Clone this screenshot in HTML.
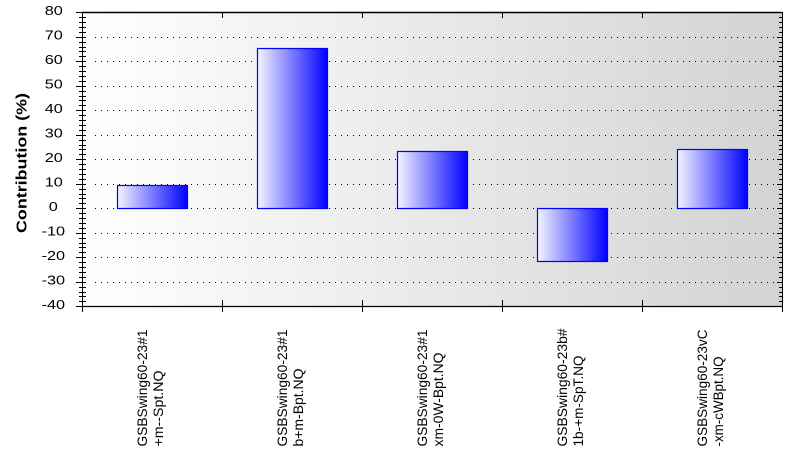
<!DOCTYPE html>
<html>
<head>
<meta charset="utf-8">
<style>
  html, body { margin: 0; padding: 0; background: #ffffff; }
  svg { display: block; }
  text { font-family: "Liberation Sans", Arial, sans-serif; fill: #000; }
</style>
</head>
<body>
<svg width="812" height="462" viewBox="0 0 812 462" xmlns="http://www.w3.org/2000/svg">
  <defs>
    <linearGradient id="bg" x1="0" y1="0" x2="1" y2="0">
      <stop offset="0" stop-color="#ffffff"/>
      <stop offset="1" stop-color="#d3d3d3"/>
    </linearGradient>
    <linearGradient id="bar" x1="0" y1="0" x2="1" y2="0">
      <stop offset="0" stop-color="#f4f4ff"/>
      <stop offset="1" stop-color="#0000ff"/>
    </linearGradient>
  </defs>

  <!-- plot background -->
  <rect x="82" y="12" width="700" height="294" fill="url(#bg)"/>

  <!-- dotted gridlines -->
  <g stroke="#000" stroke-width="1" stroke-dasharray="1 5" shape-rendering="crispEdges">
    <line x1="95" y1="37.5" x2="782" y2="37.5"/>
    <line x1="95" y1="61.5" x2="782" y2="61.5"/>
    <line x1="95" y1="86.5" x2="782" y2="86.5"/>
    <line x1="95" y1="110.5" x2="782" y2="110.5"/>
    <line x1="95" y1="135.5" x2="782" y2="135.5"/>
    <line x1="95" y1="159.5" x2="782" y2="159.5"/>
    <line x1="95" y1="184.5" x2="782" y2="184.5"/>
    <line x1="95" y1="208.5" x2="782" y2="208.5"/>
    <line x1="95" y1="233.5" x2="782" y2="233.5"/>
    <line x1="95" y1="257.5" x2="782" y2="257.5"/>
    <line x1="95" y1="282.5" x2="782" y2="282.5"/>
  </g>

  <!-- bars -->
  <g stroke="#0000ff" stroke-width="1.2" fill="url(#bar)">
    <rect x="117.5" y="185.5" width="70" height="23"/>
    <rect x="257.5" y="48.5" width="70" height="160"/>
    <rect x="397.5" y="151.5" width="70" height="57"/>
    <rect x="537.5" y="208.5" width="70" height="53"/>
    <rect x="677.5" y="149.5" width="70" height="59"/>
  </g>

  <!-- frame -->
  <g stroke="#000" stroke-width="1" fill="none">
    <line x1="82" y1="12.5" x2="782" y2="12.5" stroke-width="1.5"/>
    <line x1="82" y1="306.5" x2="782" y2="306.5" stroke-width="1.3"/>
    <line x1="82.5" y1="12" x2="82.5" y2="312"/>
    <line x1="782.5" y1="12" x2="782.5" y2="312"/>
  </g>

  <!-- minor ticks (left: 79-86, right: 779-782) -->
  <path stroke="#000" stroke-width="1" fill="none" shape-rendering="crispEdges" d="
    M79 12.5h7 M79 17.5h7 M79 22.5h7 M79 27.5h7 M79 32.5h7 M79 37.5h7 M79 42.5h7 M79 47.5h7 M79 51.5h7 M79 56.5h7
    M79 61.5h7 M79 66.5h7 M79 71.5h7 M79 76.5h7 M79 81.5h7 M79 86.5h7 M79 91.5h7 M79 96.5h7 M79 100.5h7 M79 105.5h7
    M79 110.5h7 M79 115.5h7 M79 120.5h7 M79 125.5h7 M79 130.5h7 M79 135.5h7 M79 140.5h7 M79 145.5h7 M79 149.5h7 M79 154.5h7
    M79 159.5h7 M79 164.5h7 M79 169.5h7 M79 174.5h7 M79 179.5h7 M79 184.5h7 M79 189.5h7 M79 194.5h7 M79 198.5h7 M79 203.5h7
    M79 208.5h7 M79 213.5h7 M79 218.5h7 M79 223.5h7 M79 228.5h7 M79 233.5h7 M79 238.5h7 M79 243.5h7 M79 247.5h7 M79 252.5h7
    M79 257.5h7 M79 262.5h7 M79 267.5h7 M79 272.5h7 M79 277.5h7 M79 282.5h7 M79 287.5h7 M79 292.5h7 M79 296.5h7 M79 301.5h7
    M779 17.5h3 M779 22.5h3 M779 27.5h3 M779 32.5h3 M779 42.5h3 M779 47.5h3 M779 51.5h3 M779 56.5h3
    M779 66.5h3 M779 71.5h3 M779 76.5h3 M779 81.5h3 M779 91.5h3 M779 96.5h3 M779 100.5h3 M779 105.5h3
    M779 115.5h3 M779 120.5h3 M779 125.5h3 M779 130.5h3 M779 140.5h3 M779 145.5h3 M779 149.5h3 M779 154.5h3
    M779 164.5h3 M779 169.5h3 M779 174.5h3 M779 179.5h3 M779 189.5h3 M779 194.5h3 M779 198.5h3 M779 203.5h3
    M779 213.5h3 M779 218.5h3 M779 223.5h3 M779 228.5h3 M779 238.5h3 M779 243.5h3 M779 247.5h3 M779 252.5h3
    M779 262.5h3 M779 267.5h3 M779 272.5h3 M779 277.5h3 M779 287.5h3 M779 292.5h3 M779 296.5h3 M779 301.5h3"/>

  <!-- major ticks left / right, category ticks -->
  <g stroke="#000" stroke-width="1" shape-rendering="crispEdges">
    <line x1="76" y1="12.5" x2="86" y2="12.5"/>
    <line x1="76" y1="37.5" x2="86" y2="37.5"/>
    <line x1="76" y1="61.5" x2="86" y2="61.5"/>
    <line x1="76" y1="86.5" x2="86" y2="86.5"/>
    <line x1="76" y1="110.5" x2="86" y2="110.5"/>
    <line x1="76" y1="135.5" x2="86" y2="135.5"/>
    <line x1="76" y1="159.5" x2="86" y2="159.5"/>
    <line x1="76" y1="184.5" x2="86" y2="184.5"/>
    <line x1="76" y1="208.5" x2="86" y2="208.5"/>
    <line x1="76" y1="233.5" x2="86" y2="233.5"/>
    <line x1="76" y1="257.5" x2="86" y2="257.5"/>
    <line x1="76" y1="282.5" x2="86" y2="282.5"/>
    <line x1="76" y1="306.5" x2="86" y2="306.5"/>

    <line x1="777" y1="37.5" x2="782" y2="37.5"/>
    <line x1="777" y1="61.5" x2="782" y2="61.5"/>
    <line x1="777" y1="86.5" x2="782" y2="86.5"/>
    <line x1="777" y1="110.5" x2="782" y2="110.5"/>
    <line x1="777" y1="135.5" x2="782" y2="135.5"/>
    <line x1="777" y1="159.5" x2="782" y2="159.5"/>
    <line x1="777" y1="184.5" x2="782" y2="184.5"/>
    <line x1="777" y1="208.5" x2="782" y2="208.5"/>
    <line x1="777" y1="233.5" x2="782" y2="233.5"/>
    <line x1="777" y1="257.5" x2="782" y2="257.5"/>
    <line x1="777" y1="282.5" x2="782" y2="282.5"/>

    <line x1="222.5" y1="12" x2="222.5" y2="18"/>
    <line x1="362.5" y1="12" x2="362.5" y2="18"/>
    <line x1="502.5" y1="12" x2="502.5" y2="18"/>
    <line x1="642.5" y1="12" x2="642.5" y2="18"/>
    <line x1="222.5" y1="300" x2="222.5" y2="312"/>
    <line x1="362.5" y1="300" x2="362.5" y2="312"/>
    <line x1="502.5" y1="300" x2="502.5" y2="312"/>
    <line x1="642.5" y1="300" x2="642.5" y2="312"/>
  </g>

  <!-- y tick labels -->
  <g font-size="12.5" text-anchor="middle">
    <text transform="translate(53.8,15.2) scale(1.3,1)">80</text>
    <text transform="translate(53.8,39.7) scale(1.3,1)">70</text>
    <text transform="translate(53.8,64.2) scale(1.3,1)">60</text>
    <text transform="translate(53.8,88.7) scale(1.3,1)">50</text>
    <text transform="translate(53.8,113.2) scale(1.3,1)">40</text>
    <text transform="translate(53.8,137.7) scale(1.3,1)">30</text>
    <text transform="translate(53.8,162.2) scale(1.3,1)">20</text>
    <text transform="translate(53.8,186.7) scale(1.3,1)">10</text>
    <text transform="translate(53.3,211.2) scale(1.3,1)">0</text>
    <text transform="translate(53.3,235.7) scale(1.3,1)">-10</text>
    <text transform="translate(53.3,260.2) scale(1.3,1)">-20</text>
    <text transform="translate(53.3,284.7) scale(1.3,1)">-30</text>
    <text transform="translate(53.3,309.2) scale(1.3,1)">-40</text>
  </g>

  <!-- y title -->
  <text transform="translate(26.5,163) rotate(-90)" font-size="15" font-weight="bold" text-anchor="middle" textLength="140" lengthAdjust="spacingAndGlyphs">Contribution (%)</text>

  <!-- x category labels -->
  <g font-size="13.5">
    <text transform="translate(147,446.5) rotate(-90)" textLength="117" lengthAdjust="spacingAndGlyphs">GSBSwing60-23#1</text>
    <text transform="translate(163,446.5) rotate(-90)" textLength="76" lengthAdjust="spacingAndGlyphs">+m--Spt.NQ</text>

    <text transform="translate(287,446.5) rotate(-90)" textLength="117" lengthAdjust="spacingAndGlyphs">GSBSwing60-23#1</text>
    <text transform="translate(303,446.5) rotate(-90)" textLength="78" lengthAdjust="spacingAndGlyphs">b+m-Bpt.NQ</text>

    <text transform="translate(427,446.5) rotate(-90)" textLength="117" lengthAdjust="spacingAndGlyphs">GSBSwing60-23#1</text>
    <text transform="translate(443,446.5) rotate(-90)" textLength="94" lengthAdjust="spacingAndGlyphs">xm-0W-Bpt.NQ</text>

    <text transform="translate(567,446.5) rotate(-90)" textLength="118" lengthAdjust="spacingAndGlyphs">GSBSwing60-23b#</text>
    <text transform="translate(583,446.5) rotate(-90)" textLength="91" lengthAdjust="spacingAndGlyphs">1b-+m-SpT.NQ</text>

    <text transform="translate(707,446.5) rotate(-90)" textLength="117" lengthAdjust="spacingAndGlyphs">GSBSwing60-23vC</text>
    <text transform="translate(723,446.5) rotate(-90)" textLength="90" lengthAdjust="spacingAndGlyphs">-xm-cWBpt.NQ</text>
  </g>
</svg>
</body>
</html>
